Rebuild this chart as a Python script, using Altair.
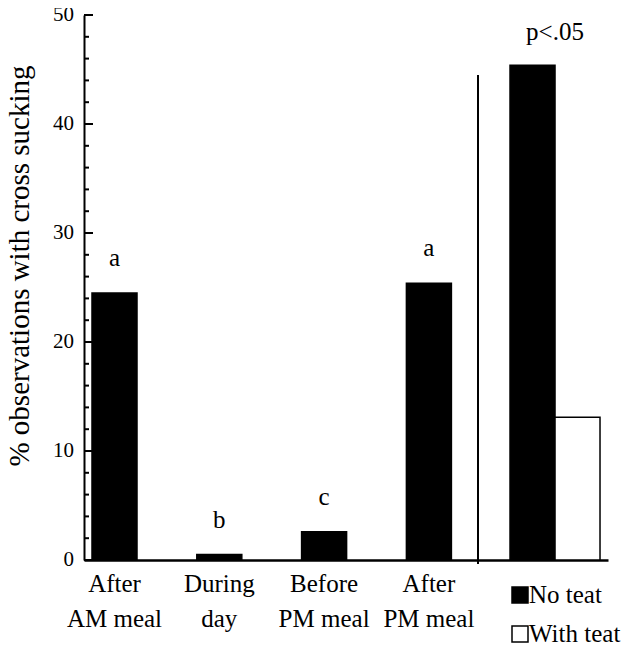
import altair as alt
import pandas as pd

# ---- data ----
meals = ["After\nAM meal", "During\nday", "Before\nPM meal", "After\nPM meal"]
meal_values = [24.5, 0.5, 2.6, 25.4]
meal_letters = ["a", "b", "c", "a"]

teat_groups = ["No teat", "With teat"]
teat_values = [45.4, 13.1]
teat_note = ["p<.05"]

y_major = [0, 10, 20, 30, 40, 50]
y_minor = [2, 4, 6, 8, 12, 14, 16, 18, 22, 24, 26, 28, 32, 34, 36, 38, 42, 44, 46, 48]
y_title = "% observations with cross sucking"

FONT = "Liberation Serif"
W, H = 524, 545

meal_df = pd.DataFrame({"meal": meals, "value": meal_values, "letter": meal_letters})
teat_df = pd.DataFrame({"part": ["teat"] * 2, "group": teat_groups, "value": teat_values})
note_df = pd.DataFrame({"part": ["teat"], "value": [max(teat_values)], "label": teat_note})
major_df = pd.DataFrame({"value": y_major})
minor_df = pd.DataFrame({"value": y_minor})
title_df = pd.DataFrame({"label": [y_title]})

y_scale = alt.Scale(domain=[0, 50], nice=False, zero=True)

y_main = alt.Y(
    "value:Q",
    scale=y_scale,
    axis=alt.Axis(
        title=None,
        values=y_major,
        ticks=False,
        labels=False,
        grid=False,
        domainWidth=2,
        domainColor="black",
    ),
)
y_plain = alt.Y("value:Q", scale=y_scale)

# meal bars (own band scale)
x_meal = alt.X(
    "meal:N",
    sort=meals,
    scale=alt.Scale(paddingInner=0.5706, paddingOuter=0.7853, align=0.0486, round=False),
    axis=alt.Axis(
        title=None,
        labels=False,
        ticks=False,
        domainWidth=2.5,
        domainColor="black",
        grid=False,
    ),
)

meal_bars = alt.Chart(meal_df).mark_bar(fill="black", stroke="black", strokeWidth=1.5).encode(
    x=x_meal, y=y_main
)
meal_text = alt.Chart(meal_df).mark_text(
    font=FONT, fontSize=25, color="black", baseline="alphabetic", dy=-27
).encode(x=alt.X("meal:N", sort=meals), y=y_plain, text="letter:N")
meal_labels = alt.Chart(meal_df).mark_text(
    font=FONT, fontSize=25, color="black", baseline="top", align="center",
    lineBreak="\n", lineHeight=35,
).encode(x=alt.X("meal:N", sort=meals), y=alt.value(H + 12), text="meal:N")
meal_layer = alt.layer(meal_bars, meal_text, meal_labels)

# teat group bars (own band scale, grouped with xOffset)
x_teat = alt.X(
    "part:N",
    scale=alt.Scale(paddingInner=0.5853, paddingOuter=1, align=0.9816, round=False),
    axis=None,
)
teat_color = alt.Scale(domain=teat_groups, range=["black", "white"])
teat_bars = alt.Chart(teat_df).mark_bar(stroke="black", strokeWidth=1.5).encode(
    x=x_teat,
    xOffset=alt.XOffset("group:N", sort=teat_groups,
                        scale=alt.Scale(paddingInner=0, paddingOuter=0, round=False)),
    y=y_plain,
    fill=alt.Fill("group:N", sort=teat_groups, scale=teat_color, legend=None),
)
note_text = alt.Chart(note_df).mark_text(
    font=FONT, fontSize=25, color="black", baseline="alphabetic", dy=-25
).encode(
    x=alt.X("part:N", axis=None),
    y=y_plain,
    text="label:N",
)
teat_layer = alt.layer(teat_bars, note_text)

# legend drawn below the grouped bars
legend_layers = []
for i, g in enumerate(teat_groups):
    row_df = pd.DataFrame({"group": [g]})
    ypos = H + 35 + 39 * i
    legend_layers.append(
        alt.Chart(row_df).mark_point(shape="square", filled=True, size=256,
                                     stroke="black", strokeWidth=1.5, opacity=1).encode(
            x=alt.value(436), y=alt.value(ypos),
            fill=alt.Fill("group:N", scale=teat_color, legend=None),
        )
    )
    legend_layers.append(
        alt.Chart(row_df).mark_text(font=FONT, fontSize=25, color="black",
                                    align="left", baseline="middle").encode(
            x=alt.value(445), y=alt.value(ypos), text="group:N"
        )
    )

# separator line between the two parts of the figure
separator = alt.Chart(major_df).mark_rule(color="black", strokeWidth=2).encode(
    x=alt.value(394), y=alt.value(60), y2=alt.value(H + 4)
)

# inward y-axis ticks and their labels
major_ticks = alt.Chart(major_df).mark_rule(color="black", strokeWidth=2).encode(
    y=y_plain, x=alt.value(0), x2=alt.value(9)
)
minor_ticks = alt.Chart(minor_df).mark_rule(color="black", strokeWidth=2).encode(
    y=y_plain, x=alt.value(0), x2=alt.value(5)
)
tick_labels = alt.Chart(major_df).mark_text(
    font=FONT, fontSize=21, color="black", align="right", baseline="middle"
).encode(y=y_plain, x=alt.value(-10), text="value:Q")

y_title_mark = alt.Chart(title_df).mark_text(
    font=FONT, fontSize=29, color="black", angle=270, align="center", baseline="middle"
).encode(x=alt.value(-64), y=alt.value(251), text="label:N")

chart = (
    alt.layer(meal_layer, teat_layer, separator, major_ticks, minor_ticks,
              tick_labels, y_title_mark, *legend_layers)
    .resolve_scale(x="independent", fill="shared")
    .properties(
        width=W,
        height=H,
        autosize=alt.AutoSizeParams(type="none"),
        padding={"left": 76, "top": 7, "right": 17, "bottom": 86},
        background="white",
    )
    .configure_view(stroke=None)
)

chart.save("out.html", embed_options={"renderer": "svg", "actions": False})
